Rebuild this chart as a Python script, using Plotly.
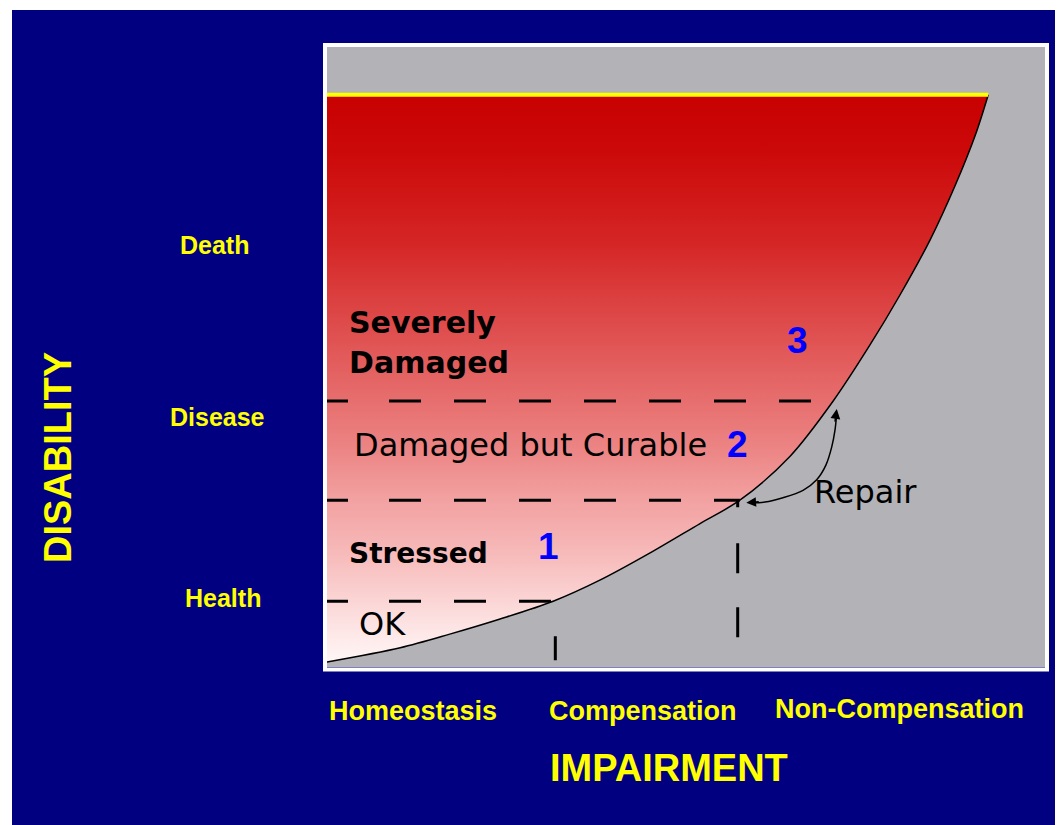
import plotly.graph_objects as go

# ---------------- data ----------------
# curve separating the damaged region from the grey area (impairment vs disability, 0-100 units)
curve_impairment = [0, 10.2, 17.1, 24.0, 31.5, 38.0, 45.0, 51.9, 57.5, 64.5, 70.5, 75.6, 79.8, 84.0, 87.5, 90.3, 92.1]
curve_disability = [0.8, 3.1, 5.3, 7.7, 10.6, 14.0, 18.4, 23.1, 26.9, 34.0, 42.9, 51.9, 60.0, 68.9, 77.7, 85.8, 92.3]
death_level = 92.3

# dashed level boundaries (disability value, impairment where the dashes stop)
level_y = [42.9, 26.9, 10.6]
level_x_end = [70.5, 57.5, 31.5]

# dashed stage boundaries (impairment value, disability where they meet the curve)
stage_x = [31.8, 57.2]
stage_y_top = [10.6, 26.9]

# repair arc
repair_x = [71.0, 70.75, 70.3, 69.5, 68.2, 66.3, 63.5, 61.0, 58.9]
repair_y = [41.0, 38.2, 35.5, 32.6, 30.2, 28.5, 27.3, 26.6, 26.5]

# labels
y_labels = ["Death", "Disease", "Health"]
x_labels = ["Homeostasis", "Compensation", "Non-Compensation"]
zone_numbers = ["1", "2", "3"]

# ---------------- layout helpers ----------------
OFF = 8  # browser body margin
W, H = 1063 - OFF, 825 - OFF
PX0, PX1, PY0, PY1 = 327, 1045, 47, 667  # plot area in page pixels


def px(xp):
    return (xp - PX0) / (PX1 - PX0)


def py(yp):
    return (PY1 - yp) / (PY1 - PY0)


NAVY = "#000080"
GREY = "#b3b3b7"
YELLOW = "#ffff00"
LAB_FONT = "Liberation Sans, Arial, sans-serif"
TXT_FONT = "DejaVu Sans, Verdana, sans-serif"

fig = go.Figure()

# gradient-filled damaged region (between the y axis and the curve) + curve itself
fig.add_trace(go.Scatter(
    x=curve_impairment, y=curve_disability,
    mode="lines", line=dict(color="black", width=1.5, shape="spline", smoothing=0.9),
    fill="tozerox",
    fillgradient=dict(type="vertical", colorscale=[
        [0.0, "#fff6f6"], [0.065, "#fde3e3"], [0.19, "#f7baba"], [0.29, "#f2a0a0"],
        [0.38, "#ec8383"], [0.57, "#e05252"], [0.74, "#d52525"], [0.9, "#cc0909"], [1.0, "#c80000"]]),
    hoverinfo="skip", showlegend=False))

# death line
fig.add_trace(go.Scatter(x=[0, curve_impairment[-1]], y=[death_level, death_level], mode="lines",
                         line=dict(color=YELLOW, width=4), hoverinfo="skip", showlegend=False))

# horizontal dashed boundaries
hdash = "21px,41px," + ",".join(["32px,33px"] * 10)
for yv, xe in zip(level_y, level_x_end):
    fig.add_trace(go.Scatter(x=[0, xe], y=[yv, yv], mode="lines",
                             line=dict(color="black", width=3, dash=hdash),
                             hoverinfo="skip", showlegend=False))

# vertical dashed boundaries (drawn from the curve downwards)
vdash = ["0px,35px,24px,60px", "7px,36px,30px,34px,30px,60px"]
for xv, yt, d in zip(stage_x, stage_y_top, vdash):
    fig.add_trace(go.Scatter(x=[xv, xv], y=[yt, 0], mode="lines",
                             line=dict(color="black", width=3, dash=d),
                             hoverinfo="skip", showlegend=False))

# repair arc
fig.add_trace(go.Scatter(x=repair_x, y=repair_y, mode="lines",
                         line=dict(color="black", width=1.5, shape="spline"),
                         hoverinfo="skip", showlegend=False))

ann = []
# arrow heads of the repair arc
ann.append(dict(x=repair_x[0], y=repair_y[0] + 0.6, xref="x", yref="y", ax=-2, ay=14, text="",
                showarrow=True, arrowhead=2, arrowsize=1.3, arrowwidth=1.5, arrowcolor="black"))
ann.append(dict(x=repair_x[-1] - 0.5, y=repair_y[-1], xref="x", yref="y", ax=14, ay=-1, text="",
                showarrow=True, arrowhead=2, arrowsize=1.3, arrowwidth=1.5, arrowcolor="black"))

# zone texts inside the plot
inside = [
    ("Severely", 347, 322, True, 30),
    ("Damaged", 347, 362, True, 30),
    ("Damaged but Curable", 352, 445, False, 32),
    ("Stressed", 347, 553, True, 28),
    ("OK", 357, 624, False, 32),
    ("Repair", 812, 492, False, 32),
]
for t, xp, yp, bold, size in inside:
    ann.append(dict(x=px(xp), y=py(yp), xref="paper", yref="paper", xanchor="left", yanchor="middle",
                    text=f"<b>{t}</b>" if bold else t, showarrow=False,
                    font=dict(family=TXT_FONT, size=size, color="black")))

for t, (xp, yp) in zip(zone_numbers, [(548, 546), (737, 445), (797, 340)]):
    ann.append(dict(x=px(xp), y=py(yp), xref="paper", yref="paper", xanchor="center", yanchor="middle",
                    text=f"<b>{t}</b>", showarrow=False,
                    font=dict(family="Liberation Sans, Arial, sans-serif", size=37, color="#0000ff")))

# yellow axis labels
for t, (xp, yp) in zip(y_labels, [(214, 245), (217, 417), (223, 598)]):
    ann.append(dict(x=px(xp), y=py(yp), xref="paper", yref="paper", xanchor="center", yanchor="middle",
                    text=f"<b>{t}</b>", showarrow=False, font=dict(family=LAB_FONT, size=25, color=YELLOW)))
for t, (xp, yp) in zip(x_labels, [(413, 711), (643, 711), (899, 709)]):
    ann.append(dict(x=px(xp), y=py(yp), xref="paper", yref="paper", xanchor="center", yanchor="middle",
                    text=f"<b>{t}</b>", showarrow=False, font=dict(family=LAB_FONT, size=27, color=YELLOW)))

ann.append(dict(x=px(669), y=py(768), xref="paper", yref="paper", xanchor="center", yanchor="middle",
                text="<b>IMPAIRMENT</b>", showarrow=False,
                font=dict(family="Liberation Sans, Arial, sans-serif", size=38, color=YELLOW)))
ann.append(dict(x=px(58), y=py(458), xref="paper", yref="paper", xanchor="center", yanchor="middle",
                text="<b>DISABILITY</b>", showarrow=False, textangle=-90,
                font=dict(family="Liberation Sans, Arial, sans-serif", size=38, color=YELLOW)))

shapes = [
    # white frame around the plot
    dict(type="rect", xref="paper", yref="paper", x0=px(325), x1=px(1047), y0=py(669.5), y1=py(45),
         line=dict(color="white", width=4), layer="above"),
    # white page margins (left / top)
    dict(type="rect", xref="paper", yref="paper", x0=-1, x1=px(12), y0=-1, y1=2,
         line=dict(width=0), fillcolor="white", layer="above"),
    dict(type="rect", xref="paper", yref="paper", x0=-1, x1=2, y0=py(10), y1=2,
         line=dict(width=0), fillcolor="white", layer="above"),
]

fig.update_layout(
    width=W, height=H,
    margin=dict(l=PX0 - OFF, r=W - (PX1 - OFF), t=PY0 - OFF, b=H - (PY1 - OFF), pad=0),
    paper_bgcolor=NAVY, plot_bgcolor=GREY,
    xaxis=dict(range=[0, 100], visible=False, showgrid=False, zeroline=False, fixedrange=True),
    yaxis=dict(range=[0, 100], visible=False, showgrid=False, zeroline=False, fixedrange=True),
    annotations=ann, shapes=shapes, showlegend=False,
)

fig.write_html("out.html")
